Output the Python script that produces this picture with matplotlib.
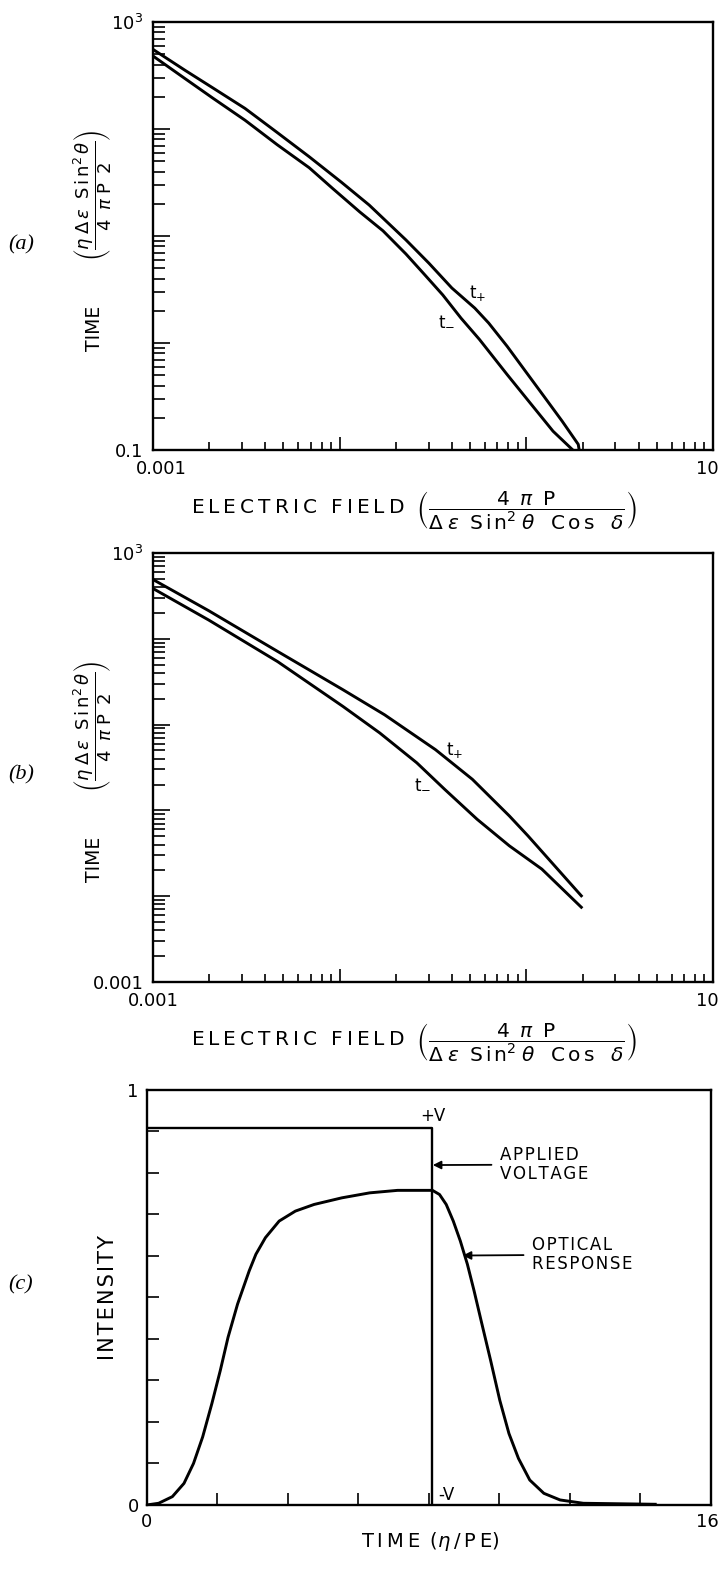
import numpy as np
import matplotlib.pyplot as plt
from matplotlib.ticker import LogLocator, NullFormatter, FixedLocator
from matplotlib.transforms import ScaledTranslation

plt.rcParams['font.family'] = ['DejaVu Sans']
plt.rcParams['mathtext.fontset'] = 'dejavusans'

# panel (a): switching times t+ / t- vs electric field
a_plus_x = [0.001, 0.001486, 0.002089, 0.003112, 0.004624, 0.006871, 0.01023, 0.01439, 0.02265,
            0.03006, 0.0399, 0.05297, 0.06281, 0.07889, 0.09886, 0.1242, 0.1556, 0.1897, 0.1919]
a_plus_y = [556, 354, 243, 156, 93.0, 55.1, 31.8, 19.5, 9.20,
            5.58, 3.27, 2.12, 1.54, 0.933, 0.546, 0.318, 0.186, 0.113, 0.1]
a_minus_x = [0.001, 0.001486, 0.002089, 0.003112, 0.004624, 0.006871, 0.00914, 0.01282, 0.01706,
             0.02265, 0.02838, 0.03565, 0.04467, 0.0561, 0.07889, 0.1047, 0.139, 0.1775]
a_minus_y = [482, 296, 195, 121, 71.5, 43.5, 28.0, 16.8, 11.2,
             6.80, 4.40, 2.82, 1.71, 1.08, 0.508, 0.276, 0.150, 0.1]

# panel (b)
b_plus_x = [0.001, 0.00199, 0.00466, 0.0104, 0.0174, 0.0326, 0.0514, 0.0811, 0.102, 0.197]
b_plus_y = [490, 212, 71, 25.5, 13.0, 5.1, 2.30, 0.861, 0.505, 0.101]
b_minus_x = [0.001, 0.00199, 0.00466, 0.0104, 0.0164, 0.0259, 0.0365, 0.0545, 0.0811, 0.121, 0.197]
b_minus_y = [385, 165, 54, 16.3, 7.98, 3.58, 1.76, 0.787, 0.386, 0.207, 0.0743]

# panel (c): applied voltage pulse and optical response
volt_t = [0, 8.1, 8.1]
volt_v = [0.908, 0.908, 0]
resp_t = [0, 0.33, 0.72, 1.05, 1.32, 1.58, 1.84, 2.08, 2.30, 2.57, 2.90, 3.09, 3.36, 3.75, 4.21,
          4.74, 5.53, 6.32, 7.11, 8.10, 8.30, 8.49, 8.69, 8.89, 9.09, 9.28, 9.48, 9.75, 10.01,
          10.27, 10.54, 10.86, 11.26, 11.72, 12.38, 14.42]
resp_i = [0, 0.004, 0.02, 0.052, 0.10, 0.164, 0.244, 0.324, 0.404, 0.484, 0.564, 0.604, 0.644,
          0.684, 0.708, 0.724, 0.74, 0.752, 0.758, 0.758, 0.748, 0.724, 0.684, 0.636, 0.58, 0.516,
          0.444, 0.348, 0.252, 0.172, 0.112, 0.06, 0.028, 0.012, 0.004, 0.0016]

# tick labels as printed on the original figure
a_xticklabels = ['0.001', '', '', '10']
a_yticklabels = ['0.1', '', '', '', r'$10^3$']
b_yticklabels = ['0.001', '', '', '', '', r'$10^3$']

lw = 2.1
fs = 13
THIN = '\u2009'
HAIR = '\u200a'


def spaced(s, sep=THIN):
    return sep.join(s)


def shift(lbl, dx):
    # nudge a tick label sideways by dx pixels
    lbl.set_transform(lbl.get_transform() + ScaledTranslation(dx / 100, 0, fig.dpi_scale_trans))


fig = plt.figure(figsize=(7.23, 15.78), dpi=100)
ax_a = fig.add_axes([0.2116, 0.7148, 0.7746, 0.2712])
ax_b = fig.add_axes([0.2116, 0.3777, 0.7746, 0.2719])
ax_c = fig.add_axes([0.2033, 0.0463, 0.780, 0.2630])

frac_y = (r'$\left(\dfrac{\eta\;\Delta\,\epsilon\;\;\mathrm{S\,i\,n}^{2}\,\theta}'
          r'{4\;\;\pi\;\mathrm{P}\;\;2}\right)$')
xlab = (spaced('ELECTRIC FIELD') + '  ' +
        r'$\left(\dfrac{4\;\;\pi\;\;\mathrm{P}}'
        r'{\Delta\;\epsilon\;\;\mathrm{S\,i\,n}^{2}\;\theta\;\;\;\mathrm{C\,o\,s}\;\;\;\delta}\right)$')


def style_log(ax, ylo, yticklabels, x0_shift):
    ax.set_xscale('log')
    ax.set_yscale('log')
    ax.set_xlim(1e-3, 1)
    ax.set_ylim(ylo, 1e3)
    ax.xaxis.set_major_locator(FixedLocator([1e-3, 1e-2, 1e-1, 1]))
    ax.set_xticklabels(a_xticklabels)
    yt = [10.0 ** k for k in range(int(round(np.log10(ylo))), 4)]
    ax.yaxis.set_major_locator(FixedLocator(yt))
    ax.set_yticklabels(yticklabels)
    for axis in (ax.xaxis, ax.yaxis):
        axis.set_minor_locator(LogLocator(base=10, subs=range(2, 10), numticks=20))
        axis.set_minor_formatter(NullFormatter())
    ax.tick_params(which='both', direction='in', top=False, right=False, width=1.2,
                   labelsize=fs)
    ax.tick_params(axis='x', which='major', length=9.5, pad=7)
    ax.tick_params(axis='x', which='minor', length=6)
    ax.tick_params(axis='y', which='major', length=12, pad=7)
    ax.tick_params(axis='y', which='minor', length=8.5)
    xl = ax.get_xticklabels()
    shift(xl[0], x0_shift)
    shift(xl[-1], -6)
    for s in ax.spines.values():
        s.set_linewidth(1.7)
    ax.text(-0.105, 0.285, 'TIME', rotation=90, ha='center', va='center',
            transform=ax.transAxes, fontsize=13.5)
    ax.text(-0.107, 0.596, frac_y, rotation=90, ha='center', va='center',
            transform=ax.transAxes, fontsize=13)
    ax.text(0.466, -0.140, xlab, ha='center', va='center',
            transform=ax.transAxes, fontsize=14.5)


ax_a.plot(a_plus_x, a_plus_y, color='black', lw=lw)
ax_a.plot(a_minus_x, a_minus_y, color='black', lw=lw)
style_log(ax_a, 0.1, a_yticklabels, 8)
ax_a.text(0.0545, 2.94, r'$\mathrm{t}_{+}$', fontsize=12, ha='center', va='center')
ax_a.text(0.0372, 1.63, r'$\mathrm{t}_{-}$', fontsize=12, ha='center', va='center')

ax_b.plot(b_plus_x, b_plus_y, color='black', lw=lw)
ax_b.plot(b_minus_x, b_minus_y, color='black', lw=lw)
style_log(ax_b, 0.01, b_yticklabels, 0)
ax_b.text(0.0414, 5.1, r'$\mathrm{t}_{+}$', fontsize=12, ha='center', va='center')
ax_b.text(0.0277, 2.10, r'$\mathrm{t}_{-}$', fontsize=12, ha='center', va='center')

# panel (c)
ax_c.plot(volt_t, volt_v, color='black', lw=1.7)
ax_c.plot(resp_t, resp_i, color='black', lw=lw)
ax_c.set_xlim(0, 16)
ax_c.set_ylim(0, 1)
ax_c.set_xticks(np.arange(0, 17, 2))
ax_c.set_xticklabels(['0'] + [''] * 7 + ['16'])
ax_c.set_yticks(np.linspace(0, 1, 11))
ax_c.set_yticklabels(['0'] + [''] * 9 + ['1'])
ax_c.tick_params(direction='in', top=False, right=False, length=8.5, width=1.2,
                 labelsize=fs, pad=6)
shift(ax_c.get_xticklabels()[-1], -4)
for s in ax_c.spines.values():
    s.set_linewidth(1.7)
ax_c.text(-0.069, 0.5, spaced('INTENSITY', HAIR), rotation=90, ha='center', va='center',
          transform=ax_c.transAxes, fontsize=15)
ax_c.text(0.502, -0.089, spaced('TIME ', THIN) + r'($\eta$' + THIN + '/' + THIN + 'P' + THIN + 'E)',
          ha='center', va='center', transform=ax_c.transAxes, fontsize=14)

ax_c.text(8.10, 0.938, '+V', ha='center', va='center', fontsize=12)
ax_c.text(8.25, 0.024, '-V', ha='left', va='center', fontsize=12)
ax_c.annotate(spaced('APPLIED', HAIR) + '\n' + spaced('VOLTAGE', HAIR), xy=(8.11, 0.819),
              xytext=(10.01, 0.82), ha='left', va='center', fontsize=12, linespacing=1.05,
              arrowprops=dict(arrowstyle='-|>', color='black', lw=1.3,
                              shrinkA=4, shrinkB=0, mutation_scale=12))
ax_c.annotate(spaced('OPTICAL', HAIR) + '\n' + spaced('RESPONSE', HAIR), xy=(8.96, 0.601),
              xytext=(10.92, 0.603), ha='left', va='center', fontsize=12, linespacing=1.05,
              arrowprops=dict(arrowstyle='-|>', color='black', lw=1.3,
                              shrinkA=4, shrinkB=0, mutation_scale=12))

# panel letters
for lab, yy in [('(a)', 245), ('(b)', 775), ('(c)', 1285)]:
    fig.text(8 / 723, 1 - yy / 1578, lab, family=['Liberation Serif', 'DejaVu Serif'],
             fontsize=16, style='italic', ha='left', va='center')

fig.savefig('out.png', dpi=100)
